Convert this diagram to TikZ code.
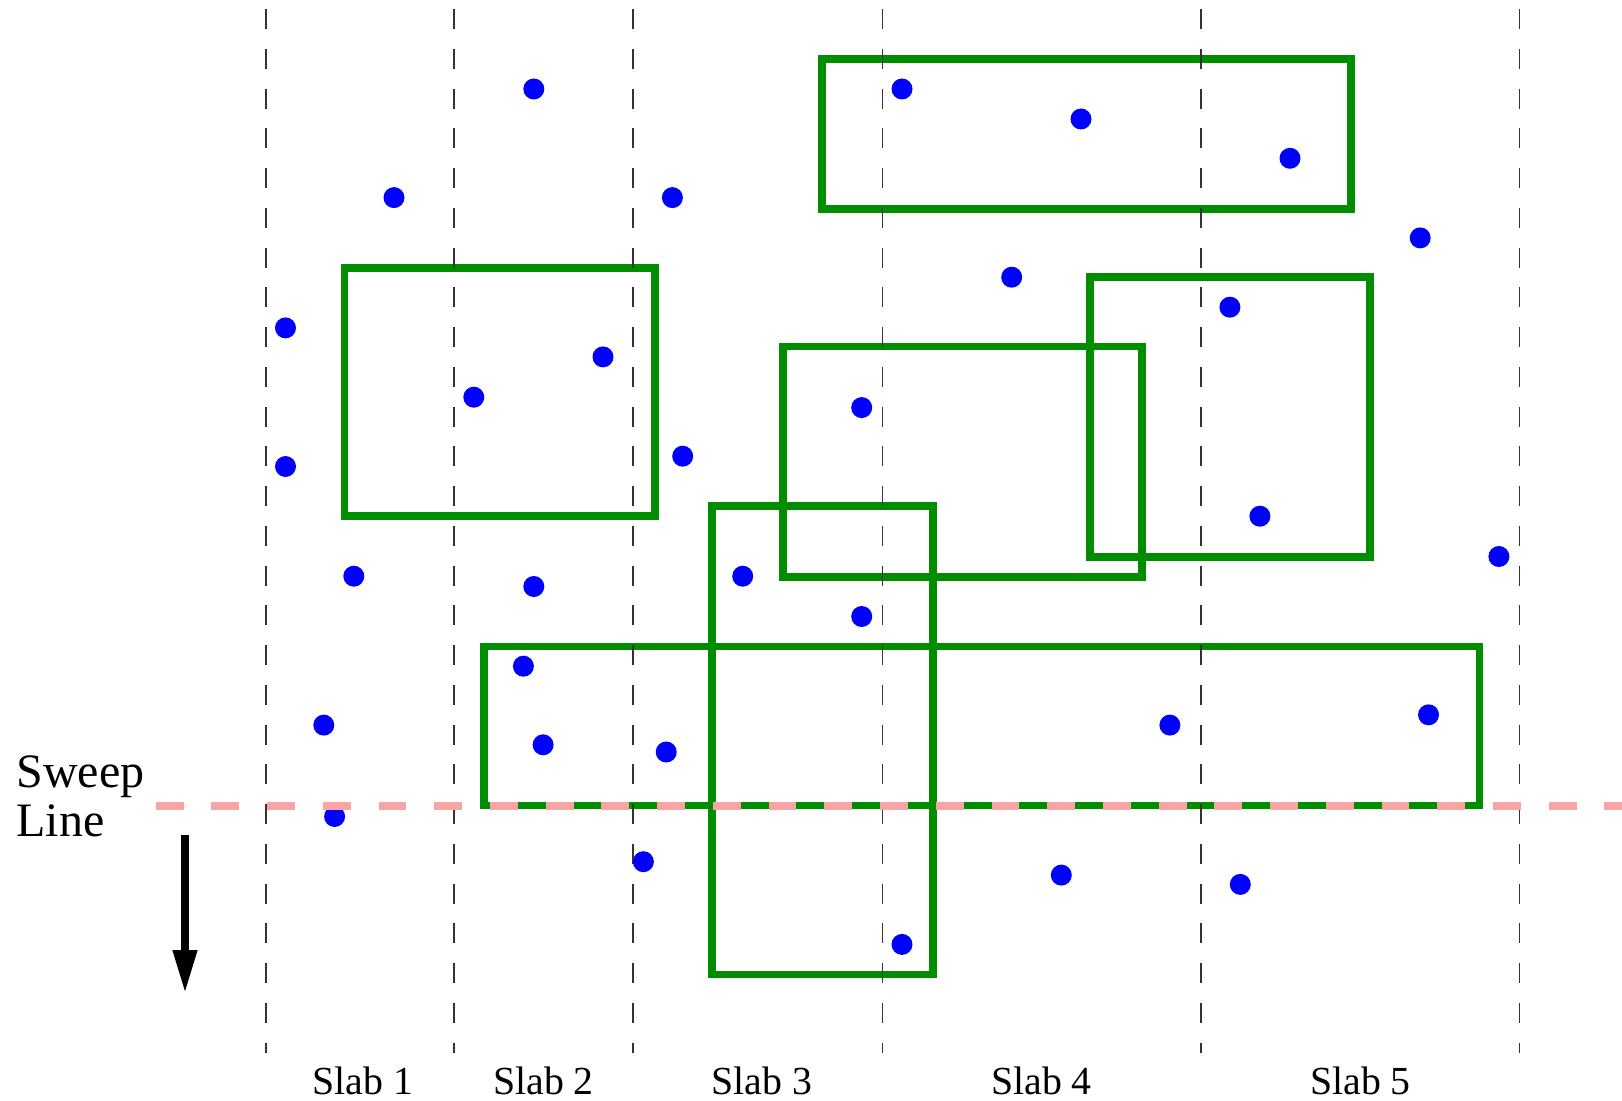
\documentclass[tikz,border=0pt]{standalone}
\usepackage{fontspec}
\setmainfont{Liberation Serif}
\usepackage{tikz}
\usetikzlibrary{arrows.meta}

\definecolor{rectgreen}{RGB}{0,142,0}
\definecolor{sweeppink}{RGB}{248,164,164}

\begin{document}
\begin{tikzpicture}[
  x=0.5pt, y=-0.5pt,
  rect/.style={draw=rectgreen, line width=3.85pt, line join=miter},
  slabline/.style={draw=black!80, line width=0.75pt, dash pattern=on 10pt off 9.88pt},
  pt/.style={circle, fill=blue, inner sep=0pt, minimum size=10.5pt},
  sweep/.style={draw=sweeppink, line width=4pt, dash pattern=on 13.93pt off 13.93pt},
  dir/.style={line width=3.75pt, -{Triangle[length=21.5pt, width=11.5pt]}},
  slablbl/.style={anchor=base, inner sep=0pt, font=\fontsize{19.9pt}{22pt}\selectfont},
  sweeplbl/.style={anchor=north west, inner sep=0pt, align=left,
    font=\fontsize{24pt}{24.5pt}\selectfont}
]
  \useasboundingbox (0,0) rectangle (1622,1101);

  % query rectangles
  \draw[rect] (822,59) rectangle (1351,209);
  \draw[rect] (344.5,268) rectangle (654.8,516);
  \draw[rect] (1090.3,277) rectangle (1370,556.7);
  \draw[rect] (783,346.5) rectangle (1142,577);
  \draw[rect] (711.7,506) rectangle (933,974.4);
  \draw[rect] (484,646.5) rectangle (1479.5,805.5);

  % slab boundaries
  \foreach \sx in {265.8,454.1,633.1,882.4,1201,1519.6}
    \draw[slabline] (\sx,9) -- (\sx,1053);

  % points
  \foreach \px/\py [count=\i] in {533.8/89, 902/89, 1081/119, 1290/158.3,
      394/197.6, 672.4/197.6, 1420.2/237.9, 1011.7/277.2, 1229.9/307.2,
      285.5/327.9, 603/356.9, 473.8/397.2, 861.7/407.6, 682.7/456.2,
      285.5/466.5, 1259.9/516.2, 1498.9/556.5, 353.8/576.2, 742.7/576.2,
      533.8/586.5, 861.7/616.5, 523.4/666.2, 1428.5/714.8, 323.8/725.1,
      1169.9/725.1, 543.1/744.8, 666.2/752, 334.6/816.5, 643.4/861.7,
      1061.3/875.1, 1240.3/884.4, 902/944.4}
    \node[pt] (p\i) at (\px,\py) {};

  % sweep line and its direction
  \draw[sweep] (155.7,805.5) -- (1622,805.5);
  \coordinate (dtop) at (185,835);
  \coordinate (dend) at (185,993);
  \draw[dir] (dtop) -- (dend);
  \node[sweeplbl] (swl) at (16,755) {Sweep\\Line};

  % slab labels
  \node[slablbl] (s1) at (363,1094) {Slab 1};
  \node[slablbl] (s2) at (543.5,1094) {Slab 2};
  \node[slablbl] (s3) at (762,1094) {Slab 3};
  \node[slablbl] (s4) at (1041.5,1094) {Slab 4};
  \node[slablbl] (s5) at (1360.5,1094) {Slab 5};
\end{tikzpicture}
\end{document}
